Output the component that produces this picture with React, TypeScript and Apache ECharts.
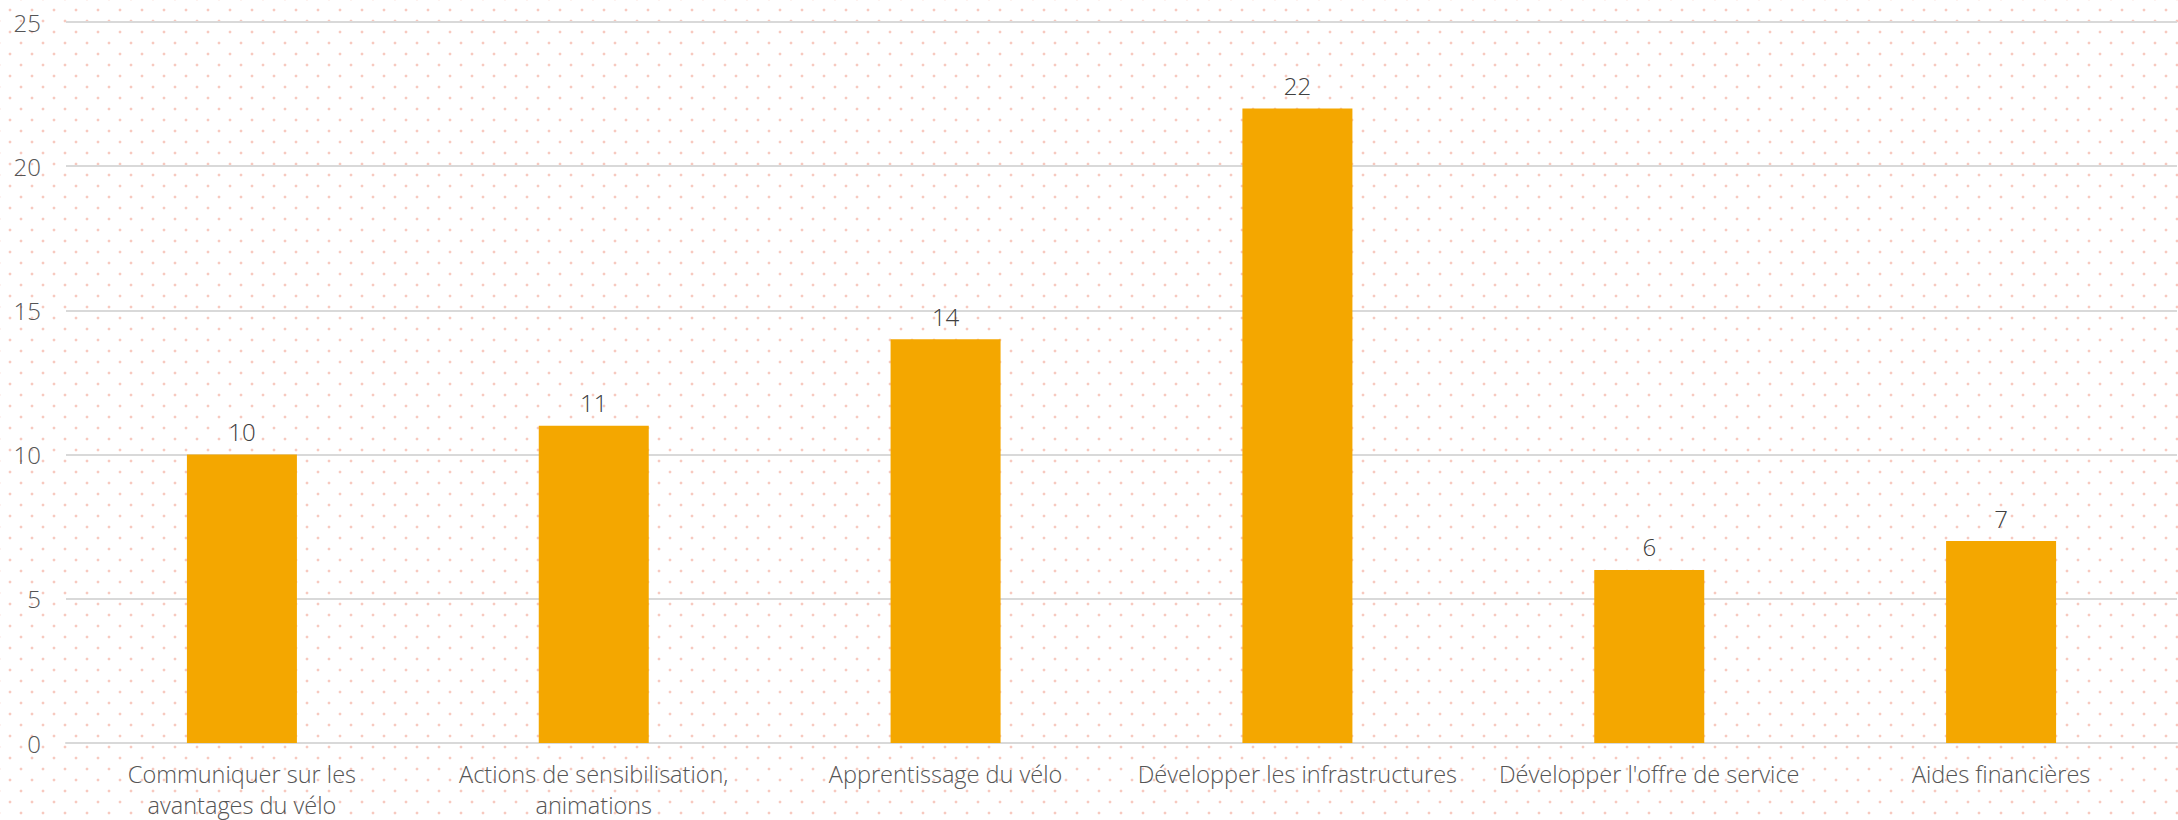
import React, { useEffect, useRef } from "react";
import * as echarts from "echarts";

const categories = [
  "Communiquer sur les\navantages du vélo",
  "Actions de sensibilisation,\nanimations",
  "Apprentissage du vélo",
  "Développer les infrastructures",
  "Développer l'offre de service",
  "Aides financières",
];
const values = [10, 11, 14, 22, 6, 7];
const yMin = 0;
const yMax = 25;
const yInterval = 5;

export default function App() {
  const ref = useRef<HTMLDivElement>(null);
  useEffect(() => {
    if (!ref.current) return;
    const chart = echarts.init(ref.current, undefined, { renderer: "svg" });
    const font = "'Open Sans', 'Noto Sans', sans-serif";
    chart.setOption({
      animation: false,
      backgroundColor: "transparent",
      grid: { left: 66, right: 1, top: 22, bottom: 74, containLabel: false },
      xAxis: {
        type: "category",
        data: categories,
        axisTick: { show: false },
        axisLine: { lineStyle: { color: "#d9d9d9", width: 2 } },
        axisLabel: {
          color: "#555555",
          fontSize: 23.5,
          fontWeight: 300,
          fontFamily: font,
          lineHeight: 31,
          margin: 15,
          interval: 0,
        },
      },
      yAxis: {
        type: "value",
        min: yMin,
        max: yMax,
        interval: yInterval,
        axisLine: { show: false },
        axisTick: { show: false },
        splitLine: { lineStyle: { color: "#d9d9d9", width: 2 } },
        axisLabel: {
          color: "#555555",
          fontSize: 24,
          fontWeight: 300,
          fontFamily: font,
          margin: 25,
        },
      },
      series: [
        {
          type: "bar",
          data: values,
          barWidth: 110,
          itemStyle: { color: "#f4a700" },
          label: {
            show: true,
            position: "top",
            distance: 11,
            color: "#404040",
            fontSize: 24,
            fontWeight: 300,
            fontFamily: font,
          },
        },
      ],
    });
    return () => chart.dispose();
  }, []);
  const dot = "radial-gradient(circle, #f7c9bf 1.2px, rgba(255,255,255,0) 1.7px)";
  return (
    <div
      style={{
        position: "fixed",
        left: 0,
        top: 0,
        width: 2178,
        height: 820,
        backgroundColor: "#ffffff",
        backgroundImage: `${dot}, ${dot}`,
        backgroundSize: "22px 22px, 22px 22px",
        backgroundPosition: "-1px -1px, 10px 10px",
      }}
    >
      <div ref={ref} style={{ width: 2178, height: 820 }} />
    </div>
  );
}
